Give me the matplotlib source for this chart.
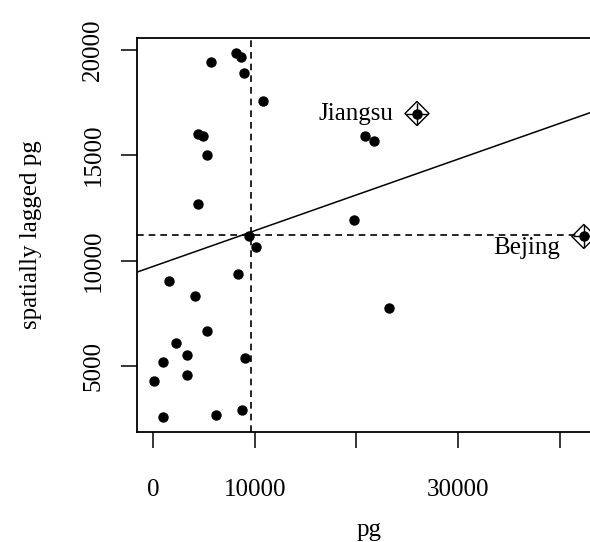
import matplotlib
matplotlib.use("Agg")
import matplotlib.pyplot as plt

plt.rcParams['font.family'] = ['Liberation Serif', 'DejaVu Serif']

# values (Moran scatterplot of pg)
pg = [5700, 8160, 8650, 8950, 10820, 4430, 4920, 5310, 4430, 20850,
      21730, 19760, 9440, 10130, 8360, 1570, 4130, 5310, 2260, 3340,
      980, 3340, 100, 9050, 980, 6200, 8750, 23210, 25960, 42380]
lag_pg = [19430, 19860, 19670, 18910, 17540, 16020, 15880, 14980, 12700, 15880,
          15690, 11900, 11140, 10620, 9380, 9050, 8340, 6680, 6110, 5500,
          5170, 4550, 4270, 5360, 2560, 2660, 2890, 7770, 16970, 11140]
infl_names = ['Jiangsu', 'Bejing']
infl_x = [25960, 42380]
infl_y = [16970, 11140]
label_dy = [0, -8]  # Bejing label sits a little below its point

mean_pg = 9600
mean_lag = 11200
fit_intercept = 9720
fit_slope = 0.1695

xticks = [0, 10000, 20000, 30000, 40000]
xtick_labels = ['0', '10000', '', '30000', '']
yticks = [5000, 10000, 15000, 20000]

fig = plt.figure(figsize=(5.9, 5.42), dpi=100)
ax = fig.add_axes([137 / 590, 1 - 432 / 542, (601 - 137) / 590, (432 - 38) / 542])

ax.scatter(pg, lag_pg, s=42, color='black', zorder=3)

# influential observations: diamond + cross on top of the dot
ax.scatter(infl_x, infl_y, marker='D', s=150, facecolors='none', edgecolors='black',
           linewidths=1.0, zorder=4)
ax.scatter(infl_x, infl_y, marker='+', s=260, color='black', linewidths=1.0, zorder=4)
for name, x, y, dy in zip(infl_names, infl_x, infl_y, label_dy):
    ax.annotate(name, (x, y), xytext=(-17, dy), textcoords='offset points',
                ha='right', va='center', fontsize=18)

ax.axvline(mean_pg, color='black', lw=1.2, ls=(0, (4, 3)), zorder=2)
ax.axhline(mean_lag, color='black', lw=1.2, ls=(0, (4, 3)), zorder=2)
ax.axline((0, fit_intercept), slope=fit_slope, color='black', lw=1.1, zorder=2)

ax.set_xlim(-1593, 44071)
ax.set_ylim(1869, 20550)
ax.set_xticks(xticks)
ax.set_xticklabels(xtick_labels)
ax.set_yticks(yticks)
ax.set_yticklabels([str(v) for v in yticks], rotation=90, va='center')
ax.tick_params(direction='out', length=11.5, width=1.1, labelsize=18)
ax.tick_params(axis='x', pad=22)
ax.tick_params(axis='y', pad=12)
for sp in ax.spines.values():
    sp.set_linewidth(1.3)

ax.set_xlabel('pg', fontsize=18, labelpad=13)
ax.set_ylabel('spatially lagged pg', fontsize=18, labelpad=29)

fig.savefig('out.png', dpi=100)
